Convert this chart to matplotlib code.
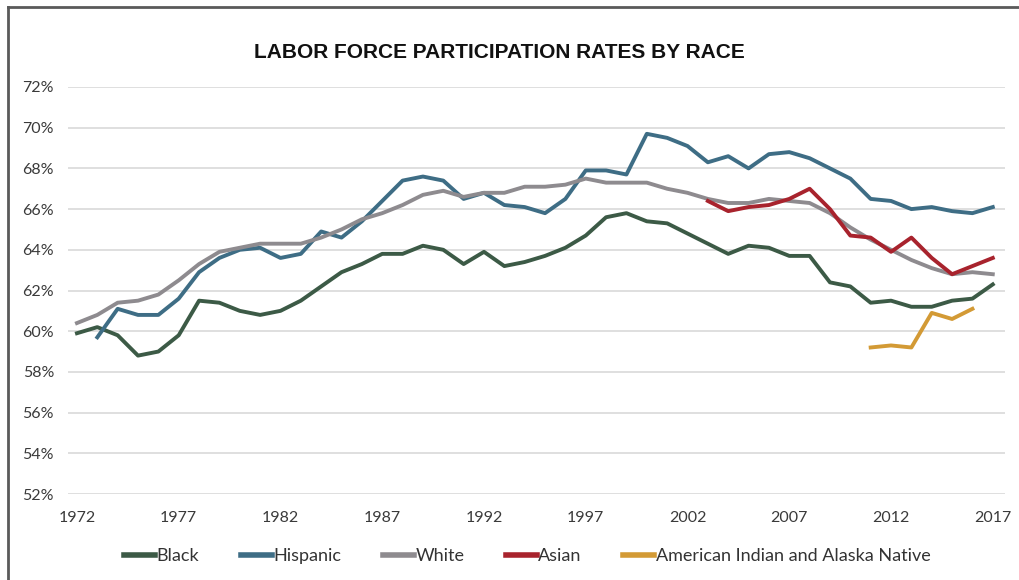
import numpy as np
import matplotlib
matplotlib.use("Agg")
from matplotlib import pyplot as plt
from matplotlib.lines import Line2D

# -- DATA --
years = np.arange(1972, 2018)
black = [59.9, 60.2, 59.8, 58.8, 59.0, 59.8, 61.5, 61.4, 61.0, 60.8,
         61.0, 61.5, 62.2, 62.9, 63.3, 63.8, 63.8, 64.2, 64.0, 63.3,
         63.9, 63.2, 63.4, 63.7, 64.1, 64.7, 65.6, 65.8, 65.4, 65.3,
         64.8, 64.3, 63.8, 64.2, 64.1, 63.7, 63.7, 62.4, 62.2, 61.4,
         61.5, 61.2, 61.2, 61.5, 61.6, 62.3]
white = [60.4, 60.8, 61.4, 61.5, 61.8, 62.5, 63.3, 63.9, 64.1, 64.3,
         64.3, 64.3, 64.6, 65.0, 65.5, 65.8, 66.2, 66.7, 66.9, 66.6,
         66.8, 66.8, 67.1, 67.1, 67.2, 67.5, 67.3, 67.3, 67.3, 67.0,
         66.8, 66.5, 66.3, 66.3, 66.5, 66.4, 66.3, 65.8, 65.1, 64.5,
         64.0, 63.5, 63.1, 62.8, 62.9, 62.8]

hisp_years = np.arange(1973, 2018)
hispanic = [59.7, 61.1, 60.8, 60.8, 61.6, 62.9, 63.6, 64.0, 64.1, 63.6,
            63.8, 64.9, 64.6, 65.4, 66.4, 67.4, 67.6, 67.4, 66.5, 66.8,
            66.2, 66.1, 65.8, 66.5, 67.9, 67.9, 67.7, 69.7, 69.5, 69.1,
            68.3, 68.6, 68.0, 68.7, 68.8, 68.5, 68.0, 67.5, 66.5, 66.4,
            66.0, 66.1, 65.9, 65.8, 66.1]

asian_years = np.arange(2003, 2018)
asian = [66.4, 65.9, 66.1, 66.2, 66.5, 67.0, 66.0, 64.7, 64.6, 63.9,
         64.6, 63.6, 62.8, 63.2, 63.6]

aian_years = np.arange(2011, 2017)
aian = [59.2, 59.3, 59.2, 60.9, 60.6, 61.1]

xticks = np.arange(1972, 2018, 5)
yticks = np.arange(52, 73, 2)

# -- PLOT --
plt.rcParams['font.family'] = ['Lato', 'DejaVu Sans']

fig = plt.figure(figsize=(10.2, 5.8), dpi=100)
ax = fig.add_axes([68 / 1020, 1 - 494 / 580, (1005 - 68) / 1020, (494 - 87) / 580])

lw = 2.8
ax.plot(years, black, color='#3c5a46', lw=lw, label='Black', zorder=3)
ax.plot(hisp_years, hispanic, color='#3e6d85', lw=lw, label='Hispanic', zorder=3)
ax.plot(years, white, color='#8e8b8f', lw=lw, label='White', zorder=3)
ax.plot(asian_years, asian, color='#a8232d', lw=lw, label='Asian', zorder=4)
ax.plot(aian_years, aian, color='#d39a35', lw=lw,
        label='American Indian and Alaska Native', zorder=4)

ax.set_xlim(1971.56, 2017.6)
ax.set_ylim(52, 72)
ax.set_xticks(xticks)
ax.set_yticks(yticks)
ax.set_yticklabels(['%d%%' % v for v in yticks])
ax.grid(axis='y', color='#d9d9d9', lw=1.2)
ax.set_axisbelow(True)
for s in ax.spines.values():
    s.set_visible(False)
ax.tick_params(axis='both', length=0, labelsize=11.5, labelcolor='#3a3a3a')
ax.tick_params(axis='y', pad=10)
ax.tick_params(axis='x', pad=12)

fig.text(0.49, 0.91, 'LABOR FORCE PARTICIPATION RATES BY RACE',
         ha='center', va='center', fontsize=15, fontweight='bold',
         family=['Liberation Sans', 'DejaVu Sans'], color='#111111')

leg = fig.legend(loc='center', bbox_to_anchor=(0.517, 0.041), ncol=5, frameon=False,
                 fontsize=13, handlelength=1.7, handletextpad=0.1, columnspacing=2.3,
                 labelcolor='#333333')
for h in leg.legend_handles:
    h.set_linewidth(4)

# outer frame: top and left edges only
fig.add_artist(Line2D([8 / 1020, 8 / 1020], [0, 1 - 7 / 580], transform=fig.transFigure,
                      color='#5a5a5a', lw=2))
fig.add_artist(Line2D([8 / 1020, 1], [1 - 7 / 580, 1 - 7 / 580], transform=fig.transFigure,
                      color='#5a5a5a', lw=2))

fig.savefig('out.png', dpi=100)
